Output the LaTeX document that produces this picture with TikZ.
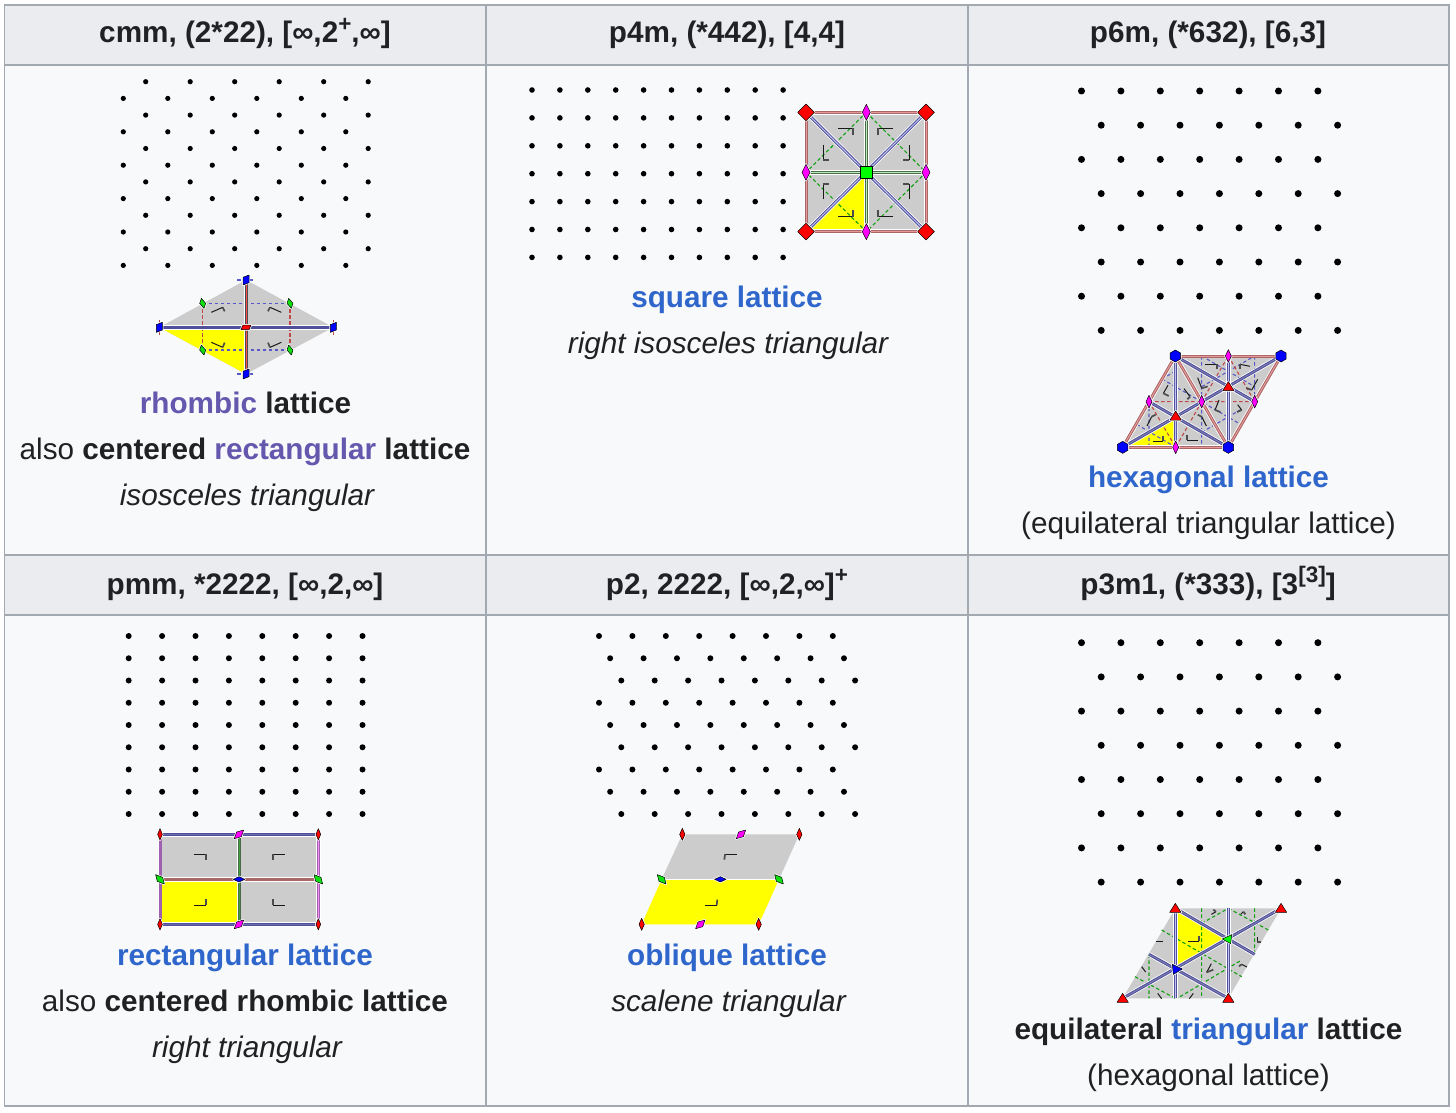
\documentclass[tikz,border=0pt]{standalone}
\usepackage{fontspec}
\setmainfont{Liberation Sans}
\definecolor{hdr}{HTML}{EAECF0}
\definecolor{cellbg}{HTML}{F8F9FA}
\definecolor{rule}{HTML}{A2A9B1}
\definecolor{ink}{HTML}{202122}
\definecolor{lnk}{HTML}{2F66CC}
\definecolor{vis}{HTML}{6557AE}
\definecolor{fdgrey}{HTML}{CCCCCC}
\definecolor{mrblue}{HTML}{50509A}
\definecolor{mrlight}{HTML}{C4C4F4}
\definecolor{mrred}{HTML}{A86868}
\definecolor{mrpink}{HTML}{E89898}
\definecolor{mrgreen}{HTML}{4A6A4A}
\definecolor{mrmint}{HTML}{BCEEBC}
\definecolor{dgreen}{HTML}{10A010}
\definecolor{dblue}{HTML}{5858C8}
\definecolor{dred}{HTML}{C04848}
\definecolor{yel}{HTML}{FFFF00}
\definecolor{mag}{HTML}{FF00FF}
\definecolor{grn}{HTML}{10E010}
\definecolor{rd}{HTML}{FF0000}
\definecolor{bl}{HTML}{0000FF}
\definecolor{brightgreen}{HTML}{00FF00}
\definecolor{vio}{HTML}{A060B0}
\definecolor{mgl}{HTML}{F090F0}
\definecolor{grnl}{HTML}{40A040}
\newcommand\supr[1]{\raisebox{0.40em}{\fontsize{22.5}{22.5}\selectfont #1}}
% quadrilateral mark: centre, two half-diagonal vectors
\newcommand\rh[7]{%
  \draw[white,line width=2pt,line join=round,fill=white] (#2+#4,#3+#5)--(#2+#6,#3+#7)--(#2-#4,#3-#5)--(#2-#6,#3-#7)--cycle;
  \draw[black,line width=.5pt,fill=#1,line join=round] (#2+#4,#3+#5)--(#2+#6,#3+#7)--(#2-#4,#3-#5)--(#2-#6,#3-#7)--cycle;}
% triangle mark
\newcommand\tr[7]{%
  \draw[white,line width=2pt,line join=round,fill=white] (#2,#3)--(#4,#5)--(#6,#7)--cycle;
  \draw[black,line width=.5pt,fill=#1,line join=round] (#2,#3)--(#4,#5)--(#6,#7)--cycle;}
\newcommand\uptri[2]{\tr{rd}{#1}{#2-15}{#1+17}{#2+12}{#1-17}{#2+12}}
\newcommand\hexm[2]{%
  \draw[white,line width=2pt,fill=white,shift={(#1,#2)}] (30:18)--(90:18)--(150:18)--(210:18)--(270:18)--(330:18)--cycle;
  \draw[black,line width=.5pt,fill=bl,shift={(#1,#2)}] (30:18)--(90:18)--(150:18)--(210:18)--(270:18)--(330:18)--cycle;}
% fiducial: corner, long arm, short arm
\newcommand\fm[6]{%
  \draw[black!90,line width=1pt] (#1+#3,#2+#4)--(#1,#2);
  \draw[black!70,line width=1.7pt] (#1,#2)--(#1+#5,#2+#6);}
% three-layer mirror line
\newcommand\ml[3]{%
  \draw[white,line width=4.6pt] #3;
  \draw[#1,line width=3pt] #3;
  \draw[#2,line width=1pt] #3;}
\tikzset{
  zoomed/.style={shift={(#1)},x=.33333pt,y=-.33333pt},
  lbl/.style={anchor=base,inner sep=0pt,text=ink,font=\fontsize{29.7}{32}\selectfont},
  hd/.style={lbl,font=\fontsize{29.7}{32}\selectfont\bfseries},
  dashg/.style={dgreen,line width=1.1pt,dash pattern=on 3.5pt off 2.5pt},
  dashb/.style={dblue,line width=1.1pt,dash pattern=on 3.5pt off 2.5pt},
  dashr/.style={dred,line width=1.1pt,dash pattern=on 3.5pt off 2.5pt},
}
\begin{document}
\begin{tikzpicture}[x=1pt,y=-1pt]
\useasboundingbox (0,0) rectangle (1456,1113);
\fill[white] (0,0) rectangle (1456,1113);
% table
\fill[cellbg] (4.5,5) rectangle (1449,1106);
\fill[hdr] (4.5,5) rectangle (1449,65);
\fill[hdr] (4.5,555) rectangle (1449,615);
\draw[rule,line width=1.6pt] (4.5,5) rectangle (1449,1106);
\foreach \yy in {65,555,615} \draw[rule,line width=1.6pt] (4.5,\yy)--(1449,\yy);
\foreach \xx in {486,968} \draw[rule,line width=1.6pt] (\xx,5)--(\xx,1106);
% headers
\node[hd] (h1) at (245,43) {cmm, (2*22), [∞,2\supr{+},∞]};
\node[hd] (h2) at (727,43) {p4m, (*442), [4,4]};
\node[hd] (h3) at (1208,43) {p6m, (*632), [6,3]};
\node[hd] (h4) at (245,594) {pmm, *2222, [∞,2,∞]};
\node[hd] (h5) at (727,594) {p2, 2222, [∞,2,∞]\supr{+}};
\node[hd] (h6) at (1208,594) {p3m1, (*333), [3\supr{[3]}]};
% captions
\node[lbl] (c1a) at (245.5,413) {\bfseries\textcolor{vis}{rhombic} lattice};
\node[lbl] (c1b) at (245,459) {also \textbf{centered \textcolor{vis}{rectangular} lattice}};
\node[lbl] (c1c) at (247,505.5) {\itshape isosceles triangular};
\node[lbl] (c2a) at (727,307) {\bfseries\textcolor{lnk}{square lattice}};
\node[lbl] (c2b) at (728,353.5) {\itshape right isosceles triangular};
\node[lbl] (c3a) at (1208.5,487) {\bfseries\textcolor{lnk}{hexagonal lattice}};
\node[lbl] (c3b) at (1208.5,533.5) {(equilateral triangular lattice)};
\node[lbl] (c4a) at (245,965) {\bfseries\textcolor{lnk}{rectangular lattice}};
\node[lbl] (c4b) at (245,1011) {also \textbf{centered rhombic lattice}};
\node[lbl] (c4c) at (247,1057.5) {\itshape right triangular};
\node[lbl] (c5a) at (727,965) {\bfseries\textcolor{lnk}{oblique lattice}};
\node[lbl] (c5b) at (728.5,1011) {\itshape scalene triangular};
\node[lbl] (c6a) at (1208.5,1039) {\bfseries equilateral \textcolor{lnk}{triangular} lattice};
\node[lbl] (c6b) at (1208.5,1085) {(hexagonal lattice)};
% dot lattices
\foreach \j in {0,...,11} \foreach \i in {0,...,5} {
  \pgfmathsetmacro\px{145.7+44.5*\i-22.4*mod(\j,2)}
  \pgfmathsetmacro\py{81.7+16.7*\j}
  \fill[black] (\px,\py) circle (2.6);}
\foreach \j in {0,...,6} \foreach \i in {0,...,9} {
  \fill[black] (532+27.9*\i,90+27.9*\j) circle (2.8);}
\foreach \j in {0,...,7} \foreach \i in {0,...,6} {
  \pgfmathsetmacro\px{1081.5+39.4*\i+19.7*mod(\j,2)}
  \fill[black] (\px,91+34.2*\j) circle (3.5);
  \fill[black] (\px,642.7+34.2*\j) circle (3.5);}
\foreach \j in {0,...,8} \foreach \i in {0,...,7} {
  \fill[black] (128.7+33.4*\i,636+22.25*\j) circle (3);
  \pgfmathsetmacro\px{599+33.4*\i+11.15*mod(\j,3)}
  \fill[black] (\px,636+22.25*\j) circle (3);}
% ---------- cmm motif
\begin{scope}[zoomed={140,270}]
\fill[fdgrey] (58,172)--(318,30)--(580,172)--(318,312)--cycle;
\fill[yel] (58,172)--(318,172)--(318,312)--cycle;
\draw[dashb] (188,100)--(450,100) (188,240)--(450,240) (292,30)--(345,30) (292,312)--(345,312);
\draw[dashr] (188,100)--(188,240) (450,100)--(450,240) (58,150)--(58,195) (580,150)--(580,195);
\fm{248}{112}{-34}{15}{6}{12}
\fm{390}{112}{34}{15}{-6}{12}
\fm{248}{232}{-34}{-15}{6}{-14}
\fm{390}{232}{34}{-15}{-6}{-14}
\ml{mrblue}{mrblue}{(58,172)--(580,172)}
\ml{black!70}{rd!70}{(318,30)--(318,312)}
\rh{bl}{58}{172}{9}{-15}{9}{8}
\rh{bl}{580}{172}{9}{-15}{9}{8}
\rh{bl}{318}{30}{9}{-15}{9}{8}
\rh{bl}{318}{312}{9}{-15}{9}{8}
\foreach \a/\b in {188/100,450/100,188/240,450/240} {\rh{grn}{\a}{\b}{-4}{-15}{9}{0}}
\rh{rd}{318}{172}{15}{-7}{9}{7}
\end{scope}
% ---------- p4m motif
\begin{scope}[zoomed={790,95}]
\fill[fdgrey] (48,52) rectangle (408,410);
\fill[yel] (48,410)--(229,232)--(229,410)--cycle;
\draw[dashg] (229,52)--(408,232)--(229,410)--(48,232)--cycle;
\fm{190}{100}{-45}{0}{0}{20}
\fm{265}{100}{45}{0}{0}{20}
\fm{100}{195}{0}{-45}{18}{0}
\fm{358}{195}{0}{-45}{-18}{0}
\fm{100}{268}{0}{45}{18}{0}
\fm{358}{268}{0}{45}{-18}{0}
\fm{190}{365}{-45}{0}{0}{-20}
\fm{265}{365}{45}{0}{0}{-20}
\ml{mrblue}{mrlight}{(48,52)--(408,410)}
\ml{mrblue}{mrlight}{(48,410)--(408,52)}
\ml{mrgreen}{mrmint}{(229,52)--(229,410)}
\ml{mrgreen}{mrmint}{(48,232)--(408,232)}
\ml{mrred}{mrpink}{(48,52)--(408,52)}
\ml{mrred}{mrpink}{(48,410)--(408,410)}
\ml{mrred}{mrpink}{(48,52)--(48,410)}
\ml{mrred}{mrpink}{(408,52)--(408,410)}
\foreach \a/\b in {48/52,408/52,48/410,408/410} {\rh{rd}{\a}{\b}{0}{-25}{25}{0}}
\foreach \a/\b in {229/52,229/410,48/232,408/232} {\rh{mag}{\a}{\b}{0}{-24}{12}{0}}
\draw[white,line width=2pt,fill=white] (212,215) rectangle (246,249);
\draw[black,line width=.5pt,fill=brightgreen] (212,215) rectangle (246,249);
\end{scope}
% ---------- p6m motif
\begin{scope}[zoomed={1110,345}]
\fill[fdgrey] (38,307)--(355,307)--(513,33)--(196,33)--cycle;
\fill[yel] (38,307)--(197,213)--(197,307)--cycle;
\draw[dashb] (117,170)--(117,307) (275,33)--(275,307) (434,33)--(434,170)
  (156,102)--(392,238) (275,33)--(434,125) (80,238)--(197,307)
  (117,262)--(275,170) (275,125)--(434,33) (275,262)--(392,194) (156,102)--(197,78);
\draw[dashr] (117,170)--(434,170) (117,170)--(197,307) (355,33)--(434,170) (275,170)--(355,33) (275,170)--(197,307);
\fm{320}{58}{-36}{0}{0}{14}
\fm{390}{58}{30}{6}{0}{14}
\fm{275}{130}{-12}{-32}{18}{-6}
\fm{425}{135}{18}{-32}{-16}{-6}
\fm{160}{145}{14}{-24}{16}{8}
\fm{240}{155}{-18}{-24}{-8}{8}
\fm{315}{195}{12}{-30}{16}{6}
\fm{395}{195}{-12}{-16}{-14}{6}
\fm{275}{215}{14}{28}{-12}{-6}
\fm{125}{215}{-14}{28}{12}{-6}
\fm{160}{288}{-32}{0}{0}{-16}
\fm{232}{285}{32}{0}{0}{-16}
\ml{mrblue}{mrlight}{(196,33)--(197,307)}
\ml{mrblue}{mrlight}{(355,33)--(355,307)}
\ml{mrblue}{mrblue!75!white}{(38,307)--(513,33)}
\ml{mrblue}{mrblue!75!white}{(196,33)--(434,170)}
\ml{mrblue}{mrblue!75!white}{(117,170)--(355,307)}
\ml{mrred}{mrpink}{(196,33)--(355,307)}
\ml{mrred}{mrpink}{(38,307)--(196,33)}
\ml{mrred}{mrpink}{(355,307)--(513,33)}
\ml{mrred}{mrpink}{(196,33)--(513,33)}
\ml{mrred}{mrpink}{(38,307)--(355,307)}
\hexm{38}{307}\hexm{355}{307}\hexm{196}{33}\hexm{513}{33}
\foreach \a/\b in {197/307,355/33,117/170,434/170,275/170} {\rh{mag}{\a}{\b}{0}{-19}{9}{0}}
\uptri{197}{213}
\uptri{355}{125}
\end{scope}
% ---------- pmm motif
\begin{scope}[zoomed={150,825}]
\fill[fdgrey] (30,28) rectangle (505,298);
\fill[yel] (30,163) rectangle (267,298);
\fm{168}{88}{-36}{0}{0}{18}
\fm{368}{88}{36}{0}{0}{18}
\fm{168}{240}{-36}{0}{0}{-18}
\fm{368}{240}{36}{0}{0}{-18}
\ml{mrblue}{mrblue!85!white}{(30,28)--(505,28)}
\ml{mrblue}{mrblue!85!white}{(30,298)--(505,298)}
\ml{mrred}{mrred}{(30,163)--(505,163)}
\ml{mrgreen}{grnl}{(267,28)--(267,298)}
\ml{vio}{vio}{(30,28)--(30,298)}
\ml{vio}{mgl}{(505,28)--(505,298)}
\foreach \a/\b in {30/28,505/28,30/298,505/298} {\rh{rd}{\a}{\b}{0}{-17}{7}{0}}
\foreach \a/\b in {267/28,267/298} {\rh{mag}{\a}{\b}{14}{-13}{7}{7}}
\foreach \a/\b in {30/163,505/163} {\rh{grn}{\a}{\b}{-13}{-14}{8}{-6}}
\rh{bl}{267}{163}{17}{0}{0}{-8}
\end{scope}
% ---------- p2 motif
\begin{scope}[zoomed={630,825}]
\fill[fdgrey] (157,28)--(508,28)--(447,163)--(95,163)--cycle;
\fill[yel] (95,163)--(447,163)--(386,298)--(35,298)--cycle;
\fm{285}{88}{36}{0}{-2}{16}
\fm{260}{240}{-36}{0}{2}{-16}
\draw[white,line width=1.6pt] (95,163)--(447,163);
\foreach \a/\b in {157/28,508/28,35/298,386/298} {\rh{rd}{\a}{\b}{0}{-18}{8}{0}}
\foreach \a/\b in {333/28,211/298} {\rh{mag}{\a}{\b}{14}{-13}{7}{7}}
\foreach \a/\b in {95/163,447/163} {\rh{grn}{\a}{\b}{-13}{-14}{8}{-6}}
\rh{bl}{271}{163}{17}{0}{0}{-8}
\end{scope}
% ---------- p3m1 motif
\begin{scope}[zoomed={1110,895}]
\fill[fdgrey] (38,310)--(355,310)--(513,40)--(196,40)--cycle;
\fill[yel] (196,40)--(352,132)--(196,222)--cycle;
\draw[dashg] (117,178)--(117,310) (275,40)--(275,310) (434,40)--(434,178)
  (155,105)--(395,245) (355,40)--(475,105) (75,245)--(196,310)
  (210,305)--(395,195) (275,85)--(355,40) (117,265)--(275,175) (275,175)--(434,85);
\fm{318}{50}{-14}{8}{-8}{-6}
\fm{400}{50}{-8}{8}{6}{8}
\fm{160}{140}{-22}{0}{0}{0}
\fm{268}{138}{-34}{0}{0}{-14}
\fm{442}{140}{0}{-14}{10}{0}
\fm{290}{232}{14}{-26}{20}{-8}
\fm{395}{208}{16}{8}{-8}{6}
\fm{95}{215}{12}{16}{0}{0}
\fm{143}{295}{12}{16}{0}{0}
\fm{250}{295}{-12}{16}{0}{0}
\ml{mrblue}{mrlight}{(196,40)--(196,310)}
\ml{mrblue}{mrlight}{(355,40)--(355,310)}
\ml{mrblue}{mrblue!75!white}{(38,310)--(513,40)}
\ml{mrblue}{mrblue!75!white}{(196,40)--(434,178)}
\ml{mrblue}{mrblue!75!white}{(117,178)--(355,310)}
\uptri{38}{310}\uptri{355}{310}\uptri{196}{40}\uptri{513}{40}
\tr{bl}{187}{208}{217}{222}{190}{238}
\tr{brightgreen}{337}{132}{365}{119}{362}{146}
\end{scope}
\end{tikzpicture}
\end{document}
